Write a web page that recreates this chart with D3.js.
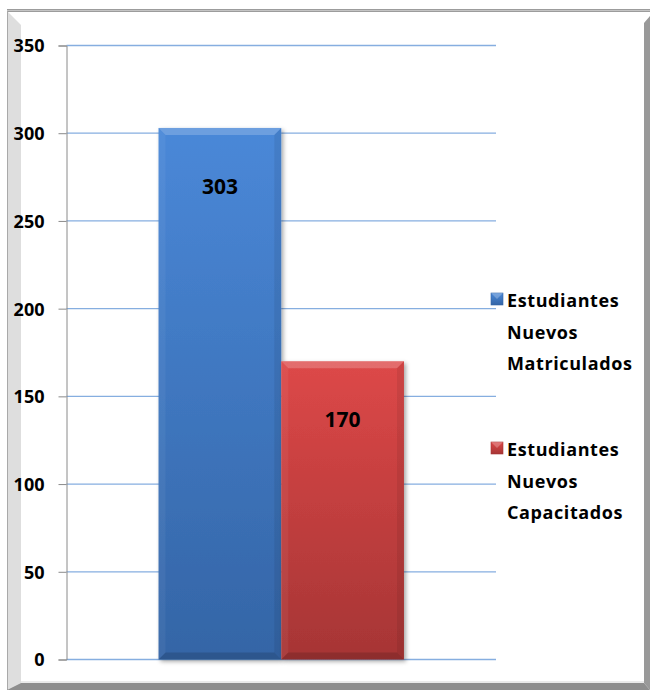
<!DOCTYPE html>
<html>
<head>
<meta charset="utf-8">
<script src="https://cdn.jsdelivr.net/npm/d3@7"></script>
<style>
  html, body { margin: 0; padding: 0; background: #ffffff; }
  svg { display: block; }
  text { font-family: "Open Sans", "Noto Sans", sans-serif; font-weight: bold; fill: #000; }
</style>
</head>
<body>
<svg id="chart" width="650" height="690"></svg>
<script>
// ---- data ----
const seriesNames = ["Estudiantes Nuevos Matriculados", "Estudiantes Nuevos Capacitados"];
const seriesValues = [303, 170];
const legendLines = [["Estudiantes", "Nuevos", "Matriculados"], ["Estudiantes", "Nuevos", "Capacitados"]];
const yTicks = [0, 50, 100, 150, 200, 250, 300, 350];
const colorsTop = ["#4a88d8", "#dd4848"];
const colorsBottom = ["#3465a6", "#a63535"];

const W = 650, H = 690;
const svg = d3.select("#chart");
const defs = svg.append("defs");

// gradients
seriesNames.forEach((s, i) => {
  const g = defs.append("linearGradient").attr("id", "grad" + i)
    .attr("x1", 0).attr("y1", 0).attr("x2", 0).attr("y2", 1);
  g.append("stop").attr("offset", "0%").attr("stop-color", colorsTop[i]);
  g.append("stop").attr("offset", "100%").attr("stop-color", colorsBottom[i]);
});
const f = defs.append("filter").attr("id", "shadow")
  .attr("x", "-20%").attr("y", "-20%").attr("width", "140%").attr("height", "140%");
f.append("feDropShadow").attr("dx", 2).attr("dy", 2).attr("stdDeviation", 2.2)
  .attr("flood-color", "#000").attr("flood-opacity", 0.35);

// ---- frame ----
const frame = svg.append("g");
frame.append("rect").attr("x", 7).attr("y", 9).attr("width", W - 7).attr("height", 3).attr("fill", "#9c9c9c");
frame.append("rect").attr("x", 7).attr("y", 10).attr("width", W - 7).attr("height", 1).attr("fill", "#c4c4c4");
frame.append("polygon").attr("points", "7,11 21,25 21,683 7,690").attr("fill", "#dedede");
frame.append("line").attr("x1", 7.5).attr("y1", 11).attr("x2", 7.5).attr("y2", 690).attr("stroke", "#a9a9a9").attr("stroke-width", 1);
frame.append("polygon").attr("points", "650,16 644,23 644,683 650,690").attr("fill", "#999999");
frame.append("polygon").attr("points", "7,690 21,683 644,683 650,690").attr("fill", "#8e8e8e");
frame.append("line").attr("x1", 21).attr("y1", 682).attr("x2", 644).attr("y2", 682).attr("stroke", "#d6d6d6").attr("stroke-width", 1);

// ---- scales ----
const plotLeft = 66.5, plotRight = 496, plotTop = 45.5, plotBottom = 659.5;
const y = d3.scaleLinear().domain([0, 350]).range([plotBottom, plotTop]);
const x = d3.scaleBand().domain(seriesNames).range([plotLeft, plotRight]).paddingInner(0).paddingOuter(0.75);

// gridlines
svg.append("g").selectAll("line").data(yTicks).join("line")
  .attr("x1", plotLeft).attr("x2", plotRight)
  .attr("y1", d => y(d)).attr("y2", d => y(d))
  .attr("stroke", "#86aee0").attr("stroke-width", 1.3);

// y axis
const yAxis = d3.axisLeft(y).tickValues(yTicks).tickSize(8).tickPadding(14).tickFormat(d3.format("d"));
const ax = svg.append("g").attr("transform", `translate(${plotLeft},0)`).call(yAxis);
ax.select(".domain").attr("stroke", "#8a8a8a").attr("stroke-width", 1);
ax.selectAll(".tick line").attr("stroke", "#8a8a8a");
ax.selectAll(".tick text").style("font-size", "18px").style("font-family", "'Open Sans', sans-serif")
  .style("font-weight", "bold").attr("fill", "#000").attr("dy", "0.36em");

// ---- bars ----
const bev = 7;
const bars = svg.append("g");
seriesNames.forEach((s, i) => {
  const x0 = x(s), x1 = x(s) + x.bandwidth();
  const yt = y(seriesValues[i]), yb = y(0);
  const g = bars.append("g");
  g.append("rect").attr("x", x0).attr("y", yt).attr("width", x1 - x0).attr("height", yb - yt)
    .attr("fill", `url(#grad${i})`).attr("filter", "url(#shadow)");
  // bevels
  g.append("polygon").attr("points", [[x0, yt], [x1, yt], [x1 - bev, yt + bev], [x0 + bev, yt + bev]].map(p => p.join(",")).join(" "))
    .attr("fill", "#fff").attr("fill-opacity", 0.2);
  g.append("polygon").attr("points", [[x0, yt], [x0 + bev, yt + bev], [x0 + bev, yb - bev], [x0, yb]].map(p => p.join(",")).join(" "))
    .attr("fill", "#fff").attr("fill-opacity", 0.05);
  g.append("polygon").attr("points", [[x1, yt], [x1 - bev, yt + bev], [x1 - bev, yb - bev], [x1, yb]].map(p => p.join(",")).join(" "))
    .attr("fill", "#000").attr("fill-opacity", 0.07);
  g.append("polygon").attr("points", [[x0, yb], [x0 + bev, yb - bev], [x1 - bev, yb - bev], [x1, yb]].map(p => p.join(",")).join(" "))
    .attr("fill", "#000").attr("fill-opacity", 0.15);
  // data label
  g.append("text").attr("x", (x0 + x1) / 2).attr("y", yt + 66)
    .attr("text-anchor", "middle").style("font-size", "21px")
    .text(seriesValues[i]);
});

// ---- legend ----
const legend = svg.append("g");
const legendX = 491, legendTextX = 507, lineH = 31.5;
const legendBaselines = [307, 456];
seriesNames.forEach((s, i) => {
  const b = legendBaselines[i];
  const g = legend.append("g");
  g.append("rect").attr("x", legendX).attr("y", b - 14).attr("width", 12).attr("height", 12)
    .attr("fill", `url(#grad${i})`).attr("stroke", colorsBottom[i]).attr("stroke-width", 0.6);
  g.append("polygon").attr("points", `${legendX},${b - 14} ${legendX + 12},${b - 14} ${legendX + 6},${b - 8}`)
    .attr("fill", "#fff").attr("fill-opacity", 0.25);
  const t = g.append("text").attr("x", legendTextX).attr("y", b).style("font-size", "18px").style("letter-spacing", "0.6px");
  legendLines[i].forEach((ln, k) => {
    t.append("tspan").attr("x", legendTextX).attr("y", b + k * lineH).text(ln);
  });
});
</script>
</body>
</html>
